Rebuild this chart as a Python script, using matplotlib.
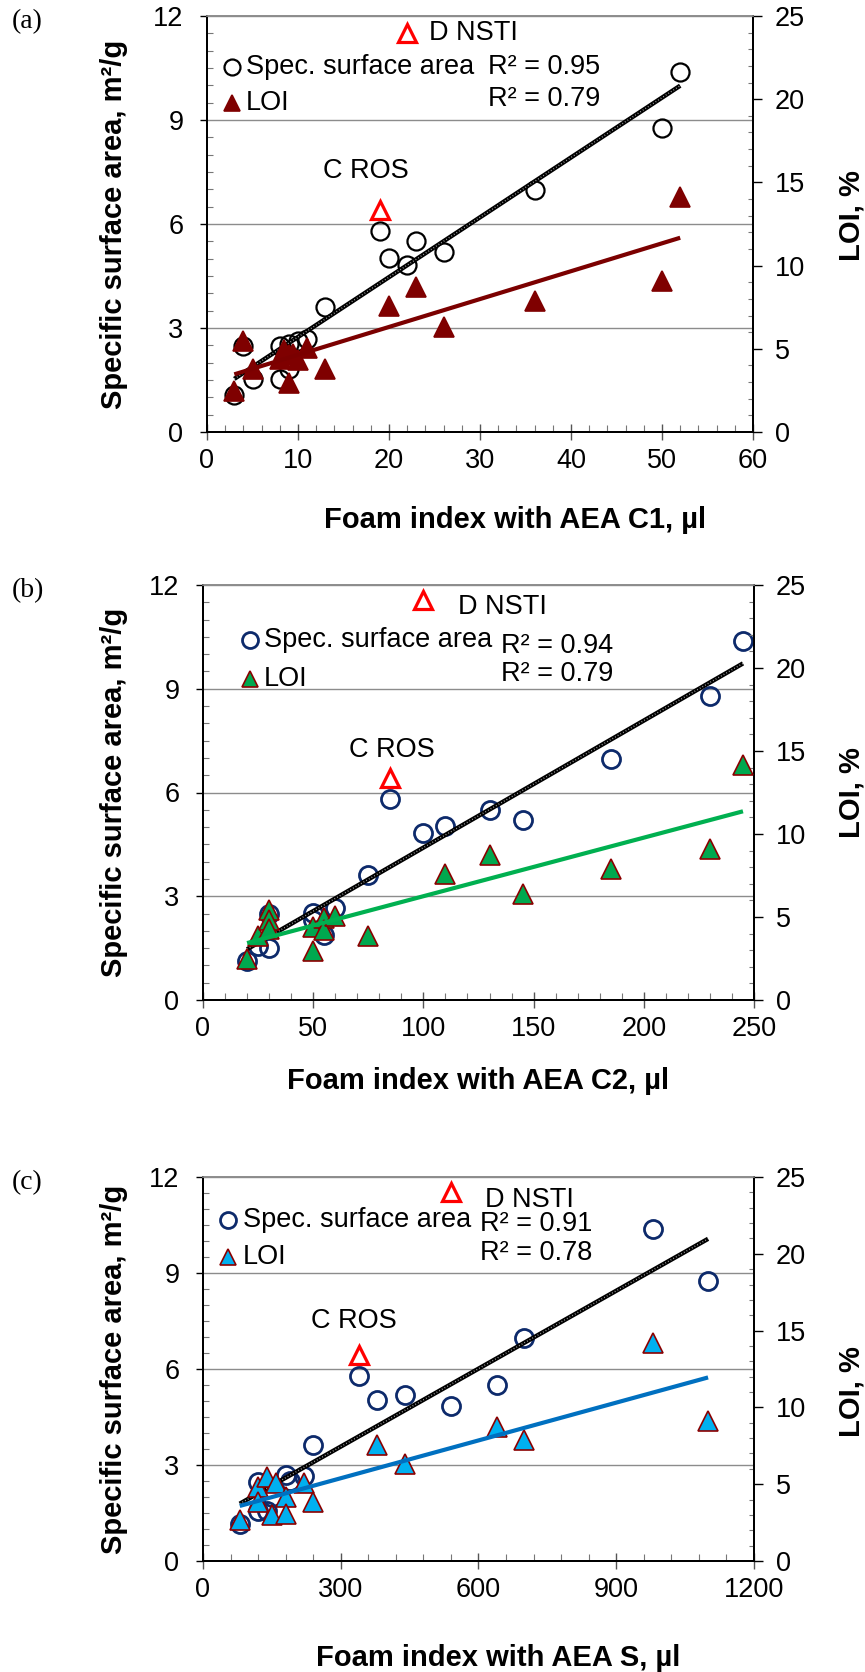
import numpy as np
import matplotlib
matplotlib.use("Agg")
import matplotlib.pyplot as plt
from matplotlib.ticker import MultipleLocator

plt.rcParams['font.family'] = ['Liberation Sans', 'DejaVu Sans']

# ---------------- data ----------------
# (a) foam index with AEA C1
c1_ssa_x = [3, 4, 5, 8, 8, 9, 9, 10, 11, 13, 19, 20, 22, 23, 26, 36, 50, 52]
c1_ssa = [1.08, 2.47, 1.54, 2.47, 1.54, 2.55, 1.83, 2.62, 2.68, 3.61, 5.81,
          5.01, 4.83, 5.50, 5.20, 6.97, 8.78, 10.39]
c1_loi_x = [3, 4, 5, 8, 8.5, 9, 9, 9.5, 10, 11, 13, 20, 23, 26, 36, 50, 52]
c1_loi = [2.45, 5.44, 3.77, 4.37, 4.90, 2.97, 4.60, 4.70, 4.30, 5.05, 3.81,
          7.58, 8.73, 6.32, 7.89, 9.09, 14.15]
c1_ros = (19, 13.35)
c1_nsti = (22, 24.0)

# (b) foam index with AEA C2
c2_ssa_x = [20, 25, 30, 30, 50, 50, 55, 60, 75, 85, 100, 110, 130, 145, 185, 230, 245]
c2_ssa = [1.14, 1.56, 1.50, 2.49, 2.53, 2.30, 1.88, 2.65, 3.62, 5.80, 4.84,
          5.03, 5.49, 5.21, 6.96, 8.78, 10.37]
c2_loi_x = [20, 25, 30, 30, 30, 50, 50, 55, 55, 60, 75, 110, 130, 145, 185, 230, 245]
c2_loi = [2.47, 3.86, 5.42, 4.82, 4.26, 2.98, 4.42, 4.94, 4.20, 5.06, 3.85,
          7.61, 8.73, 6.37, 7.88, 9.07, 14.17]
c2_ros = (85, 13.37)
c2_nsti = (100, 24.07)

# (c) foam index with AEA S
s_ssa_x = [80, 120, 120, 140, 150, 180, 190, 220, 240, 340, 380, 440, 540,
           640, 700, 980, 1100]
s_ssa = [1.15, 2.48, 1.55, 1.55, 2.00, 2.68, 2.50, 2.65, 3.61, 5.79, 5.02,
         5.18, 4.84, 5.51, 6.98, 10.38, 8.76]
s_loi_x = [80, 120, 120, 140, 150, 160, 180, 180, 220, 240, 380, 440, 640,
           700, 980, 1100]
s_loi = [2.65, 4.80, 3.85, 5.47, 2.97, 5.06, 4.18, 3.05, 5.06, 3.81, 7.56,
         6.31, 8.74, 7.86, 14.20, 9.10]
s_ros = (340, 13.39)
s_nsti = (540, 24.03)

r2_labels = [("R² = 0.95", "R² = 0.79"), ("R² = 0.94", "R² = 0.79"),
             ("R² = 0.91", "R² = 0.78")]
x_labels = ["Foam index with AEA C1, µl", "Foam index with AEA C2, µl",
            "Foam index with AEA S, µl"]
panel_tags = ["(a)", "(b)", "(c)"]

# ---------------- styling ----------------
W, H = 865, 1672
fig = plt.figure(figsize=(W / 100, H / 100), dpi=100)

FS = 19.5
LFS = 21


def px_rect(l, r, t, b):
    return [l / W, 1 - b / H, (r - l) / W, (b - t) / H]


panels = [
    dict(rect=px_rect(207, 753, 16, 432), xmax=60, xmaj=10, xmin=2,
         ssa_x=c1_ssa_x, ssa=c1_ssa, loi_x=c1_loi_x, loi=c1_loi,
         ros=c1_ros, nsti=c1_nsti,
         circ_ec='black', circ_w=1.6,
         tri_fc='#7F0000', tri_ec='#7F0000', loi_line='#7B0000',
         leg=(0.0455, 0.8775, 0.791, 0.0715),
         r2=(0.515, 0.8775, 0.80),
         cros=(0.212, 0.628), dnsti=(0.407, 0.96),
         xlab=(0.564, -0.179), ylab=-0.145, rlab=(1.154, 0.52), tag_y=22),
    dict(rect=px_rect(203, 754, 585, 1000), xmax=250, xmaj=50, xmin=10,
         ssa_x=c2_ssa_x, ssa=c2_ssa, loi_x=c2_loi_x, loi=c2_loi,
         ros=c2_ros, nsti=c2_nsti,
         circ_ec='#0D2A6B', circ_w=2.0,
         tri_fc='#00A84F', tri_ec='#8B0000', loi_line='#00B050',
         leg=(0.085, 0.867, 0.774, 0.111),
         r2=(0.54, 0.854, 0.786),
         cros=(0.265, 0.603), dnsti=(0.463, 0.948),
         xlab=(0.50, -0.161), ylab=-0.136, rlab=(1.151, 0.50), tag_y=591),
    dict(rect=px_rect(203, 754, 1177, 1561), xmax=1200, xmaj=300, xmin=60,
         ssa_x=s_ssa_x, ssa=s_ssa, loi_x=s_loi_x, loi=s_loi,
         ros=s_ros, nsti=s_nsti,
         circ_ec='#0D2A6B', circ_w=2.0,
         tri_fc='#00B0F0', tri_ec='#8B0000', loi_line='#0070C0',
         leg=(0.046, 0.887, 0.792, 0.072),
         r2=(0.502, 0.8775, 0.8025),
         cros=(0.196, 0.624), dnsti=(0.511, 0.939),
         xlab=(0.535, -0.215), ylab=-0.136, rlab=(1.151, 0.44), tag_y=1183),
]


def trend(ax, x, y, **kw):
    x = np.asarray(x, float)
    y = np.asarray(y, float)
    k, b = np.polyfit(x, y, 1)
    xs = np.array([x.min(), x.max()])
    return ax.plot(xs, k * xs + b, **kw)


for i, p in enumerate(panels):
    ax = fig.add_axes(p['rect'])
    ax2 = ax.twinx()
    ax.set_xlim(0, p['xmax'])
    ax.set_ylim(0, 12)
    ax2.set_ylim(0, 25)

    # gridlines on the left scale
    ax.yaxis.set_major_locator(MultipleLocator(3))
    ax.yaxis.set_minor_locator(MultipleLocator(0.5))
    ax.xaxis.set_major_locator(MultipleLocator(p['xmaj']))
    ax.xaxis.set_minor_locator(MultipleLocator(p['xmin']))
    ax2.yaxis.set_major_locator(MultipleLocator(5))
    ax2.yaxis.set_minor_locator(MultipleLocator(1))
    ax.grid(axis='y', which='major', color='#8c8c8c', lw=1.0)
    ax.set_axisbelow(True)

    for a in (ax, ax2):
        a.spines['top'].set_color('#8c8c8c')
        a.spines['top'].set_linewidth(1.2)
        for s in ('left', 'right', 'bottom'):
            a.spines[s].set_linewidth(1.4)
            a.spines[s].set_color('black')

    ax.tick_params(axis='y', which='major', direction='out', length=5, width=1,
                   labelsize=FS, pad=12)
    ax.tick_params(axis='y', which='minor', direction='in', length=4.5, width=0.8,
                   color='#777777')
    ax.tick_params(axis='x', which='major', direction='inout', length=11, width=1,
                   labelsize=FS, pad=6, color='#555555')
    ax.tick_params(axis='x', which='minor', direction='in', length=5, width=0.8,
                   color='#777777')
    ax2.tick_params(axis='y', which='major', direction='out', length=6.5, width=1,
                    labelsize=FS, pad=9)
    ax2.tick_params(axis='y', which='minor', direction='in', length=3.6, width=0.8,
                    color='#777777')

    # specific surface area (left scale)
    ax.plot(p['ssa_x'], p['ssa'], ls='none', marker='o', ms=13, mfc='none',
            mec=p['circ_ec'], mew=p['circ_w'], zorder=3)
    trend(ax, p['ssa_x'], p['ssa'], color='black', lw=3.2, zorder=4,
          solid_capstyle='butt')
    trend(ax, p['ssa_x'], p['ssa'], color='#b0b0b0', lw=1.0, ls=(0, (0.6, 1.6)),
          zorder=5)

    # LOI (right scale)
    ax2.plot(p['loi_x'], p['loi'], ls='none', marker='^', ms=14, mfc=p['tri_fc'],
             mec=p['tri_ec'], mew=1.2, zorder=3)
    trend(ax2, p['loi_x'], p['loi'], color=p['loi_line'], lw=3, zorder=4,
          solid_capstyle='butt')

    # labelled outliers
    for pt in (p['ros'], p['nsti']):
        ax2.plot([pt[0]], [pt[1]], ls='none', marker='^', ms=12.5, mfc='none',
                 mec='#FF0000', mew=2.3, zorder=5)
    ax2.text(p['cros'][0], p['cros'][1], "C ROS", transform=ax2.transAxes,
             fontsize=FS, ha='left', va='center')
    ax2.text(p['dnsti'][0], p['dnsti'][1], "D NSTI", transform=ax2.transAxes,
             fontsize=FS, ha='left', va='center')

    # key
    lx, ly1, ly2, tx = p['leg']
    ax2.plot([lx], [ly1], transform=ax2.transAxes, ls='none', marker='o', ms=11.5,
             mfc='none', mec=p['circ_ec'], mew=p['circ_w'], clip_on=False)
    ax2.plot([lx], [ly2], transform=ax2.transAxes, ls='none', marker='^', ms=12,
             mfc=p['tri_fc'], mec=p['tri_ec'], mew=1.2, clip_on=False)
    ax2.text(tx, ly1, "Spec. surface area", transform=ax2.transAxes,
             fontsize=FS, ha='left', va='center')
    ax2.text(tx, ly2, "LOI", transform=ax2.transAxes,
             fontsize=FS, ha='left', va='center')

    rx, ry1, ry2 = p['r2']
    ax2.text(rx, ry1, r2_labels[i][0], transform=ax2.transAxes, fontsize=FS,
             ha='left', va='center')
    ax2.text(rx, ry2, r2_labels[i][1], transform=ax2.transAxes, fontsize=FS,
             ha='left', va='center')

    ax.set_xlabel(x_labels[i], fontsize=LFS, fontweight='bold')
    ax.xaxis.set_label_coords(*p['xlab'])
    ax.set_ylabel("Specific surface area, m²/g", fontsize=LFS, fontweight='bold')
    ax.yaxis.set_label_coords(p['ylab'], 0.5)
    ax2.set_ylabel("LOI, %", fontsize=LFS, fontweight='bold')
    ax2.yaxis.set_label_coords(*p['rlab'])

    fig.text(12 / W, 1 - p['tag_y'] / H, panel_tags[i], fontsize=20,
             family=['Liberation Serif', 'DejaVu Serif'], ha='left', va='center')

fig.savefig("out.png", dpi=100)
